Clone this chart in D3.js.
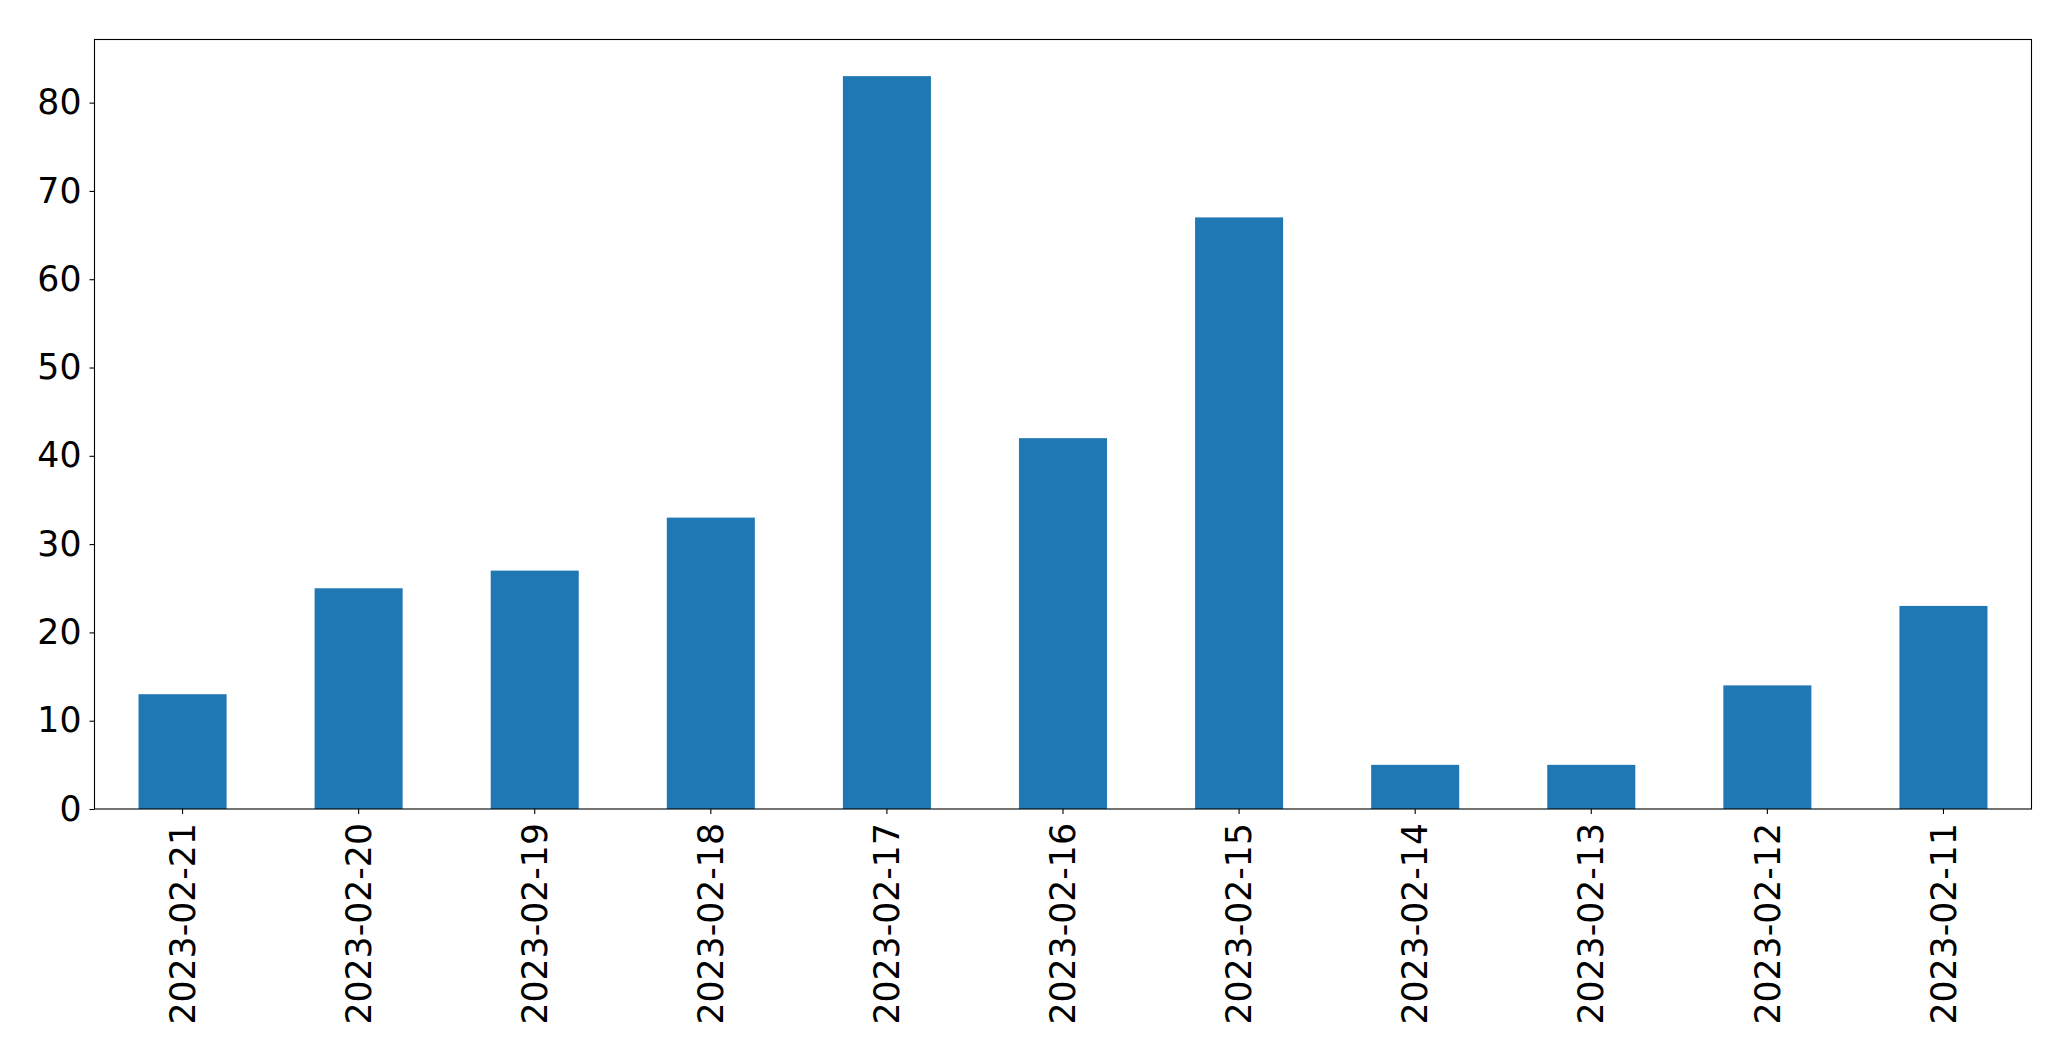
<!DOCTYPE html>
<html>
<head>
<meta charset="utf-8">
<script src="https://cdn.jsdelivr.net/npm/d3@7"></script>
<style>
  html, body { margin: 0; padding: 0; background: #fff; }
  svg { display: block; }
  .tick text { font-family: "DejaVu Sans", sans-serif; fill: #000; }
</style>
</head>
<body>
<div id="chart"></div>
<script>
// Data
const dates = ['2023-02-21', '2023-02-20', '2023-02-19', '2023-02-18', '2023-02-17',
  '2023-02-16', '2023-02-15', '2023-02-14', '2023-02-13', '2023-02-12', '2023-02-11'];
const counts = [13, 25, 27, 33, 83, 42, 67, 5, 5, 14, 23];
const yTicks = [0, 10, 20, 30, 40, 50, 60, 70, 80];

const width = 2071, height = 1061;
const margin = { top: 39.5, right: 39.5, bottom: 252, left: 94.5 };
const innerW = width - margin.left - margin.right;
const innerH = height - margin.top - margin.bottom;
const fontSize = '34.7px';

const svg = d3.select('#chart').append('svg')
  .attr('width', width)
  .attr('height', height);

const g = svg.append('g')
  .attr('transform', `translate(${margin.left},${margin.top})`);

const x = d3.scaleBand()
  .domain(dates)
  .range([0, innerW])
  .paddingInner(0.5)
  .paddingOuter(0.25);

const y = d3.scaleLinear()
  .domain([0, d3.max(counts) * 1.05])
  .range([innerH, 0]);

// Bars
g.selectAll('.bar')
  .data(counts)
  .join('rect')
  .attr('class', 'bar')
  .attr('x', (d, i) => x(dates[i]))
  .attr('y', d => y(d))
  .attr('width', x.bandwidth())
  .attr('height', d => y(0) - y(d))
  .attr('fill', '#1f77b4');

// Y axis
const yAxis = g.append('g')
  .call(d3.axisLeft(y).tickValues(yTicks).tickSize(5).tickPadding(8));
yAxis.select('.domain').remove();
yAxis.selectAll('.tick line').attr('stroke', '#000').attr('stroke-width', 1.1);
yAxis.selectAll('.tick text').style('font-size', fontSize);

// X axis
const xAxis = g.append('g')
  .attr('transform', `translate(0,${innerH})`)
  .call(d3.axisBottom(x).tickSize(5).tickPadding(0));
xAxis.select('.domain').remove();
xAxis.selectAll('.tick line').attr('stroke', '#000').attr('stroke-width', 1.1);
xAxis.selectAll('.tick text')
  .style('font-size', fontSize)
  .attr('transform', 'rotate(-90)')
  .attr('text-anchor', 'end')
  .attr('x', -14)
  .attr('y', 0)
  .attr('dy', '0.35em');

// Frame
g.append('rect')
  .attr('width', innerW)
  .attr('height', innerH)
  .attr('fill', 'none')
  .attr('stroke', '#000')
  .attr('stroke-width', 1.1);
</script>
</body>
</html>
